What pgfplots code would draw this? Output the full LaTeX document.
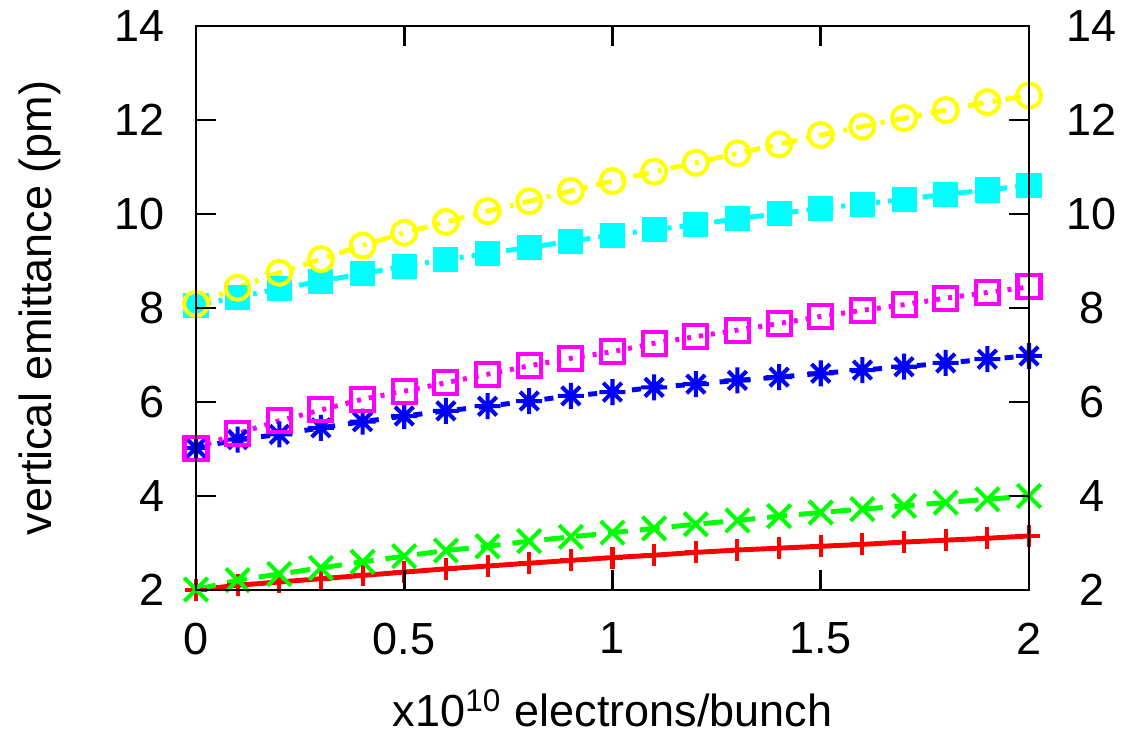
\documentclass[border=0pt]{standalone}
\usepackage{fontspec}
\setmainfont{Liberation Sans}
\usepackage{pgfplots}
\usepackage{pgfplotstable}
\pgfplotsset{compat=1.18}

% gnuplot style asterisk: + and x together
\pgfdeclareplotmark{gpstar}{%
  \pgfpathmoveto{\pgfqpoint{-\pgfplotmarksize}{0pt}}%
  \pgfpathlineto{\pgfqpoint{\pgfplotmarksize}{0pt}}%
  \pgfpathmoveto{\pgfqpoint{0pt}{-\pgfplotmarksize}}%
  \pgfpathlineto{\pgfqpoint{0pt}{\pgfplotmarksize}}%
  \pgfpathmoveto{\pgfqpoint{-.7071\pgfplotmarksize}{-.7071\pgfplotmarksize}}%
  \pgfpathlineto{\pgfqpoint{.7071\pgfplotmarksize}{.7071\pgfplotmarksize}}%
  \pgfpathmoveto{\pgfqpoint{-.7071\pgfplotmarksize}{.7071\pgfplotmarksize}}%
  \pgfpathlineto{\pgfqpoint{.7071\pgfplotmarksize}{-.7071\pgfplotmarksize}}%
  \pgfusepathqstroke}

\definecolor{gpred}{RGB}{255,0,0}
\definecolor{gpgreen}{RGB}{0,255,0}
\definecolor{gpblue}{RGB}{0,0,255}
\definecolor{gpmag}{RGB}{255,0,255}
\definecolor{gpcyan}{RGB}{0,255,255}
\definecolor{gpyel}{RGB}{255,255,0}

\pgfplotstableread{
x   red  green blue mag  cyan  yel
0.0 2.00 2.01 5.02 5.02 8.06  8.09
0.1 2.10 2.21 5.20 5.33 8.23  8.43
0.2 2.17 2.34 5.31 5.60 8.41  8.75
0.3 2.24 2.47 5.45 5.83 8.57  9.04
0.4 2.31 2.60 5.58 6.06 8.73  9.33
0.5 2.38 2.72 5.70 6.23 8.89  9.60
0.6 2.45 2.84 5.81 6.41 9.03  9.83
0.7 2.51 2.93 5.91 6.59 9.16  10.06
0.8 2.57 3.04 6.02 6.77 9.29  10.27
0.9 2.63 3.13 6.13 6.93 9.42  10.49
1.0 2.69 3.22 6.21 7.07 9.55  10.70
1.1 2.74 3.31 6.31 7.25 9.67  10.90
1.2 2.80 3.40 6.38 7.39 9.77  11.09
1.3 2.85 3.48 6.46 7.53 9.90  11.29
1.4 2.89 3.57 6.53 7.67 10.01 11.48
1.5 2.93 3.65 6.61 7.82 10.12 11.68
1.6 2.97 3.72 6.68 7.95 10.21 11.86
1.7 3.02 3.79 6.75 8.07 10.31 12.04
1.8 3.06 3.86 6.83 8.21 10.42 12.21
1.9 3.10 3.93 6.91 8.33 10.51 12.38
2.0 3.15 4.00 6.98 8.45 10.61 12.52
}\emit

\newcommand{\gpfont}{\fontsize{12.8pt}{15pt}\selectfont}

\begin{document}
\begin{tikzpicture}
\pgfplotsset{
  gpframe/.style={
    scale only axis, width=83.3mm, height=56.4mm,
    xmin=0, xmax=2, ymin=2, ymax=14,
    xtick={0,0.5,1,1.5,2}, ytick={2,4,...,14},
    tick align=inside, major tick length=2mm,
    axis line style={line width=0.75pt},
    every tick/.style={black, line width=0.75pt},
    /pgf/number format/assume math mode=true,
    tick label style={font=\gpfont},
    label style={font=\gpfont},
  }
}
\begin{axis}[
  gpframe,
  clip=false,
  yticklabel style={anchor=east, inner sep=0pt, xshift=-3.1mm},
  xticklabel style={anchor=north, inner sep=0pt, yshift=-3.2mm},
  ylabel={vertical emittance (pm)},
  ylabel style={at={(axis description cs:-0.187,0.5)}, anchor=center},
  xlabel={x10\textsuperscript{10} electrons/bunch},
  xlabel style={at={(axis description cs:0.5,-0.21)}, anchor=center},
  every axis plot/.append style={line width=1.4pt},
  mark options={solid, line width=1.15pt},
]
\addplot[gpred, mark=+, mark size=1.1mm] table[x=x, y=red] {\emit};
\addplot[gpgreen, dash pattern=on 2mm off 1.2mm, mark=x, mark size=1.65mm] table[x=x, y=green] {\emit};
\addplot[gpblue, dash pattern=on 0.9mm off 1.3mm, mark=gpstar, mark size=1.3mm] table[x=x, y=blue] {\emit};
\addplot[gpmag, dash pattern=on 0.4mm off 0.8mm, mark=square, mark size=1.15mm] table[x=x, y=mag] {\emit};
\addplot[gpcyan, dash pattern=on 1.5mm off 0.8mm on 0.4mm off 0.8mm, mark=square*, mark size=1.05mm] table[x=x, y=cyan] {\emit};
\addplot[gpyel, dash pattern=on 1.6mm off 0.9mm on 0.4mm off 0.9mm, mark=o, mark size=1.2mm] table[x=x, y=yel] {\emit};
\coordinate (sw) at (rel axis cs:0,0);
\coordinate (ne) at (rel axis cs:1,1);
\end{axis}
\begin{axis}[
  gpframe,
  xticklabels={},
  yticklabel pos=right,
  yticklabel style={anchor=center, inner sep=0pt, xshift=6.3mm},
]
\end{axis}
\pgfresetboundingbox
\path ([shift={(-19.6mm,-14.7mm)}]sw) rectangle ([shift={(10.2mm,2.6mm)}]ne);
\end{tikzpicture}
\end{document}
